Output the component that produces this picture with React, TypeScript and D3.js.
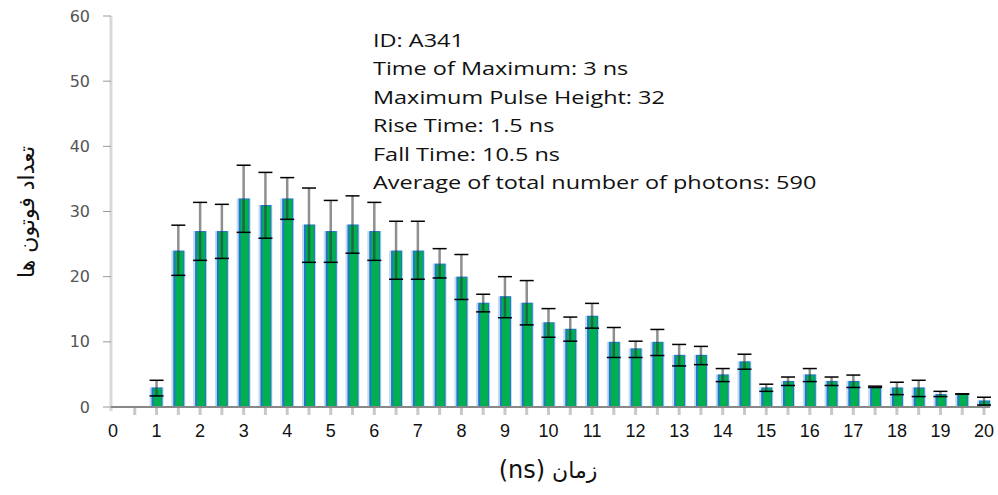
import React from 'react';
import * as d3 from 'd3';

// زمان (ns) - one bar every half nanosecond
const times = [1, 1.5, 2, 2.5, 3, 3.5, 4, 4.5, 5, 5.5, 6, 6.5, 7, 7.5, 8, 8.5, 9, 9.5, 10, 10.5,
  11, 11.5, 12, 12.5, 13, 13.5, 14, 14.5, 15, 15.5, 16, 16.5, 17, 17.5, 18, 18.5, 19, 19.5, 20];
const counts = [3, 24, 27, 27, 32, 31, 32, 28, 27, 28, 27, 24, 24, 22, 20, 16, 17, 16, 13, 12,
  14, 10, 9, 10, 8, 8, 5, 7, 3, 4, 5, 4, 4, 3, 3, 3, 2, 2, 1];
const errHigh = [4.1, 27.9, 31.4, 31.1, 37.1, 36, 35.2, 33.6, 31.7, 32.4, 31.4, 28.5, 28.5, 24.3, 23.4, 17.3, 20, 19.4, 15.1, 13.8,
  15.9, 12.2, 10.1, 11.9, 9.6, 9.3, 5.9, 8.1, 3.5, 4.6, 5.9, 4.6, 4.9, 3.2, 3.8, 4.1, 2.4, 2, 1.5];
const errLow = [1.7, 20.2, 22.5, 22.8, 26.8, 25.9, 28.8, 22.2, 22.2, 23.6, 22.5, 19.6, 19.6, 19.8, 16.5, 14.6, 13.7, 12.6, 10.7, 10.1,
  12.1, 7.6, 7.6, 7.9, 6.3, 6.5, 3.9, 5.8, 2.4, 3.3, 3.9, 3.3, 3, 3, 1.9, 1.6, 1.6, 2, 0.3];
const minorTicks = [0.5, ...times];
const xTicks = [0, 1, 2, 3, 4, 5, 6, 7, 8, 9, 10, 11, 12, 13, 14, 15, 16, 17, 18, 19, 20];
const yTicks = [0, 10, 20, 30, 40, 50, 60];
const infoLines = [
  'ID: A341',
  'Time of Maximum: 3 ns',
  'Maximum Pulse Height: 32',
  'Rise Time: 1.5 ns',
  'Fall Time: 10.5 ns',
  'Average of total number of photons: 590',
];

const W = 998;
const H = 495;

const App = () => {
  const x = d3.scaleLinear().domain([0, 20]).range([113, 984]);
  const y = d3.scaleLinear().domain([0, 60]).range([407, 16]);
  const axisX = 111;

  return (
    <svg width={W} height={H} style={{ position: 'absolute', left: 0, top: 0, background: '#fff' }}>
      {/* y axis line */}
      <line x1={axisX} x2={axisX} y1={y(60)} y2={y(0) + 4} stroke="#d9d9d9" strokeWidth={3} />
      {yTicks.map(t => (
        <g key={t}>
          <line x1={axisX - 8} x2={axisX} y1={y(t)} y2={y(t)} stroke="#999" strokeWidth={1} />
          <text x={90} y={y(t)} dy="0.35em" textAnchor="end" fontFamily="'DejaVu Sans', Verdana, sans-serif"
            fontSize={16} fill="#555">{t}</text>
        </g>
      ))}

      {/* bars */}
      {times.map((t, i) => {
        const cx = x(t);
        const top = y(counts[i]);
        const h = y(0) - top;
        return (
          <g key={t}>
            <rect x={cx - 7} y={top} width={14} height={h} fill="#c4dbf2" />
            <rect x={cx - 5} y={top} width={11} height={h} fill="#1f77c8" />
            <rect x={cx - 3} y={top + 1} width={8} height={h - 1} fill="#00b050" />
          </g>
        );
      })}

      {/* error bars */}
      {times.map((t, i) => {
        const cx = x(t);
        return (
          <g key={'e' + t}>
            <line x1={cx} x2={cx} y1={y(errHigh[i])} y2={y(errLow[i])} stroke="#333" strokeOpacity={0.55} strokeWidth={2.5} />
            <line x1={cx - 7} x2={cx + 7} y1={y(errHigh[i])} y2={y(errHigh[i])} stroke="#000" strokeWidth={1.5} />
            <line x1={cx - 7} x2={cx + 7} y1={y(errLow[i])} y2={y(errLow[i])} stroke="#000" strokeWidth={1.5} />
          </g>
        );
      })}

      {/* x axis */}
      <line x1={axisX} x2={990} y1={y(0)} y2={y(0)} stroke="#888" strokeWidth={2} />
      {minorTicks.map(t => (
        <line key={'m' + t} x1={x(t)} x2={x(t)} y1={y(0) + 1} y2={y(0) + 8} stroke="#c8c8c8" strokeWidth={3} />
      ))}
      {xTicks.map(t => (
        <text key={'x' + t} x={x(t)} y={437} textAnchor="middle" fontFamily="'Liberation Sans', Arial, sans-serif"
          fontSize={18} fill="#111">{t}</text>
      ))}

      {/* axis titles */}
      <text x={548} y={478} textAnchor="middle" fontFamily="'DejaVu Sans', sans-serif" fontSize={22} fill="#111">
        <tspan fontSize={24}>(ns)</tspan> زمان
      </text>
      <text transform={`translate(34, 212) rotate(-90)`} textAnchor="middle" fontFamily="'DejaVu Sans', sans-serif"
        fontSize={22} fill="#111">تعداد فوتون ها</text>

      {/* info box (the original is stretched horizontally) */}
      <g transform="translate(373, 0) scale(1.34, 1)">
        {infoLines.map((s, i) => (
          <text key={s} x={0} y={47 + i * 28.5} fontFamily="'Open Sans', sans-serif" fontSize={17.5} fill="#111">{s}</text>
        ))}
      </g>
    </svg>
  );
};

export default App;
